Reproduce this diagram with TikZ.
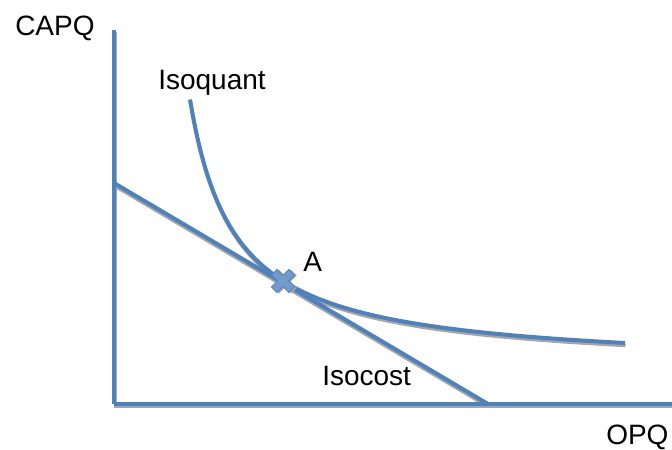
\documentclass[tikz,border=0pt]{standalone}
\usepackage{fontspec}
\setmainfont{Liberation Sans}
\definecolor{lineblue}{HTML}{4F81BD}
\definecolor{shadowgray}{HTML}{A6A6A6}
\begin{document}
\begin{tikzpicture}[x=0.75pt,y=-0.75pt,
  bluel/.style={draw=lineblue,line width=3pt},
  shadl/.style={draw=shadowgray,line width=2.6pt},
  lbl/.style={font=\fontsize{21pt}{24pt}\selectfont,inner sep=0pt,text=black,anchor=base west}]
\useasboundingbox (0,0) rectangle (672,450);
% coordinates
\coordinate (O) at (114,404);
\coordinate (Ytop) at (114,30);
\coordinate (Xend) at (672,404);
\coordinate (C1) at (114,183);
\coordinate (C2) at (488,404);
\coordinate (A) at (283,281);
% shadows
\draw[shadl] ([shift={(1.5,2)}]Ytop) -- ([shift={(1.5,2)}]O);
\draw[shadl] ([shift={(0,2.5)}]O) -- ([shift={(0,2.5)}]Xend);
\draw[shadl] ([shift={(0,2.5)}]C1) -- ([shift={(0,2.5)}]C2);
\draw[shadl,domain=190:625,samples=120,smooth] plot ({\x+0.5},{370.5-12000/(\x-145.3)});
% main lines
\draw[bluel] (Ytop) -- (O);
\draw[bluel] (O) -- (Xend);
\draw[bluel] (C1) -- (C2);
\draw[bluel,domain=190:625,samples=120,smooth] plot (\x,{368-12000/(\x-145.3)});
% marker at A
\begin{scope}[shift={(A)},rotate=45]
\fill[shadowgray,shift={(1,2)}] (-4,-12.5) -- (4,-12.5) -- (4,-4) -- (12.5,-4) -- (12.5,4) -- (4,4) -- (4,12.5) -- (-4,12.5) -- (-4,4) -- (-12.5,4) -- (-12.5,-4) -- (-4,-4) -- cycle;
\filldraw[fill=lineblue!80,draw=lineblue,line width=0.6pt] (-4,-12.5) -- (4,-12.5) -- (4,-4) -- (12.5,-4) -- (12.5,4) -- (4,4) -- (4,12.5) -- (-4,12.5) -- (-4,4) -- (-12.5,4) -- (-12.5,-4) -- (-4,-4) -- cycle;
\end{scope}
% labels
\node[lbl] (capq) at (15,35) {CAPQ};
\node[lbl] (opq) at (606,444) {OPQ};
\node[lbl] (isoq) at (158,89) {Isoquant};
\node[lbl] (isoc) at (322,385) {Isocost};
\node[lbl] (alab) at (303,271) {A};
\end{tikzpicture}
\end{document}
